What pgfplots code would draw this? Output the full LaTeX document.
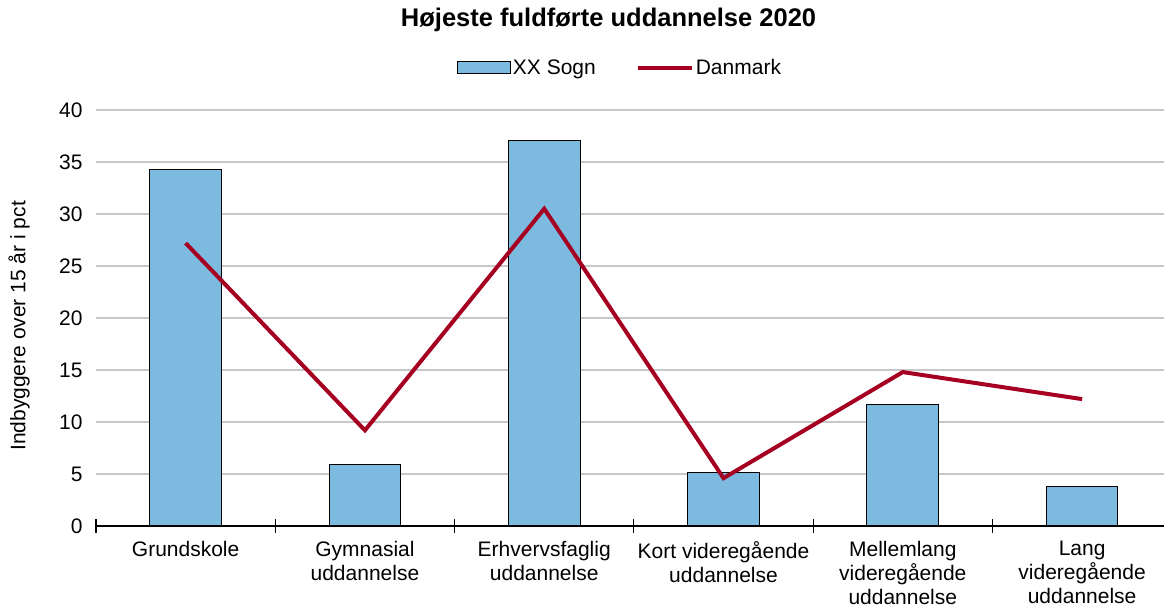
\documentclass[border=0pt]{standalone}
\usepackage{pgfplots}
\pgfplotsset{compat=1.18}
\usepackage{fontspec}
\setmainfont{Liberation Sans}
\definecolor{barblue}{RGB}{125,186,223}
\definecolor{linered}{RGB}{165,0,33}
\definecolor{gridgray}{RGB}{200,200,200}
\begin{document}
\begin{tikzpicture}
\begin{axis}[
  at={(0,0)}, anchor=south west,
  scale only axis,
  width=1068pt, height=416pt,
  xmin=-0.5, xmax=5.457,
  ymin=0, ymax=40,
  ytick={0,5,...,40},
  xtick={0,1,2,3,4,5},
  xticklabels={Grundskole,{Gymnasial\\uddannelse},{Erhvervsfaglig\\uddannelse},{Kort videregående\\uddannelse},{Mellemlang\\videregående\\uddannelse},{Lang\\videregående\\uddannelse}},
  minor xtick={-0.5,0.5,1.5,2.5,3.5,4.5},
  major tick length=0pt,
  minor tick length=13pt,
  tick align=center,
  minor tick style={black, line width=1.2pt},
  axis x line*=bottom,
  axis y line*=left,
  y axis line style={draw=none},
  x axis line style={black, line width=1.3pt},
  ymajorgrids,
  grid style={gridgray, line width=1.6pt},
  /pgf/number format/assume math mode=true,
  tick label style={font=\fontsize{21}{24}\selectfont},
  xticklabel style={align=center, yshift=-12pt},
  yticklabel style={xshift=-10pt},
  ylabel={Indbyggere over 15 år i pct},
  ylabel style={at={([xshift=-77pt]axis description cs:0,0.481)}, anchor=center, rotate=0, font=\fontsize{21}{24}\selectfont},
  title={Højeste fuldførte uddannelse 2020},
  title style={at={(axis description cs:0.4799,1.2019)}, anchor=center, font=\fontsize{25.5}{30}\selectfont\bfseries},
  legend columns=2,
  legend style={draw=none, at={(axis description cs:0.4906,1.101)}, anchor=center,
    font=\fontsize{21}{24}\selectfont,
    nodes={inner sep=2pt},
    /tikz/every even column/.append style={column sep=38pt}},
]
\addplot[ybar, bar width=0.4, fill=barblue, draw=black, line width=1pt,
  legend image code/.code={\draw[fill=barblue, draw=black, line width=1pt] (0pt,-6pt) rectangle (53pt,6pt);}]
  coordinates {(0,34.3) (1,5.9) (2,37.1) (3,5.1) (4,11.7) (5,3.75)};
\addlegendentry{XX Sogn}
\addplot[linered, line width=4pt, mark=none,
  legend image code/.code={\draw[linered, line width=4pt] (0pt,0pt) -- (54pt,0pt);}]
  coordinates {(0,27.2) (1,9.2) (2,30.5) (3,4.6) (4,14.8) (5,12.2)};
\addlegendentry{Danmark}
\end{axis}
\pgfresetboundingbox
\path[use as bounding box] (-96pt,-81pt) rectangle (1068pt,526pt);
\end{tikzpicture}
\end{document}
